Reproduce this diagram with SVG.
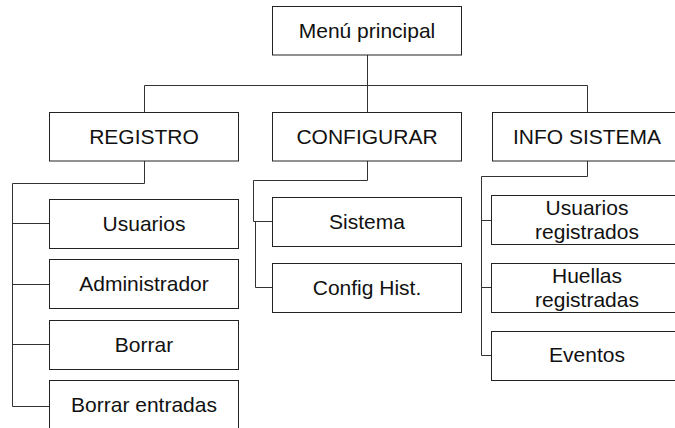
<svg xmlns="http://www.w3.org/2000/svg" width="675" height="428" viewBox="0 0 675 428">
<style>
.box{fill:#ffffff;stroke:#222222;stroke-width:1}
.t{font-family:"Liberation Sans",Arial,sans-serif;font-size:21px;fill:#111111;text-anchor:middle}
.c{fill:none;stroke:#333333;stroke-width:1}
</style>
<rect width="675" height="428" fill="#ffffff"/>
<g id="connectors">
<path class="c" d="M367.5 55 V112.5"/>
<path class="c" d="M144.5 112.5 V85.5 H587.5 V112.5"/>
<path class="c" d="M144.5 161 V183.5 H12.5 V406.5 H49.5"/>
<path class="c" d="M12.5 223.5 H49.5 M12.5 284.5 H49.5 M12.5 344.5 H49.5"/>
<path class="c" d="M367.5 161 V180.5 H253.5 V221.5 H272.5"/>
<path class="c" d="M255.5 221.5 V287.5 H272.5"/>
<path class="c" d="M587.5 161 V176.5 H481.5 V355.5 H491.5"/>
<path class="c" d="M481.5 220.5 H491.5 M481.5 287.5 H491.5"/>
</g>
<g id="menu-principal"><rect class="box" x="272.5" y="6.5" width="189" height="48.5"/><text class="t" x="367" y="37.5">Menú principal</text></g>
<g id="registro"><rect class="box" x="49.5" y="112.5" width="189" height="48.5"/><text class="t" x="144" y="143.5">REGISTRO</text></g>
<g id="configurar"><rect class="box" x="272.5" y="112.5" width="189" height="48.5"/><text class="t" x="367" y="143.5">CONFIGURAR</text></g>
<g id="info-sistema"><rect class="box" x="492.5" y="112.5" width="190" height="48.5"/><text class="t" x="587" y="143.5">INFO SISTEMA</text></g>
<g id="usuarios"><rect class="box" x="49.5" y="199.5" width="189" height="49"/><text class="t" x="144" y="230.5">Usuarios</text></g>
<g id="administrador"><rect class="box" x="49.5" y="259.5" width="189" height="49"/><text class="t" x="144" y="290.5">Administrador</text></g>
<g id="borrar"><rect class="box" x="49.5" y="320.5" width="189" height="49"/><text class="t" x="144" y="351.5">Borrar</text></g>
<g id="borrar-entradas"><rect class="box" x="49.5" y="380.5" width="189" height="49"/><text class="t" x="144" y="411.5">Borrar entradas</text></g>
<g id="sistema"><rect class="box" x="272.5" y="197.5" width="189" height="49"/><text class="t" x="367" y="228.5">Sistema</text></g>
<g id="config-hist"><rect class="box" x="272.5" y="263.5" width="189" height="49"/><text class="t" x="367" y="294.5">Config Hist.</text></g>
<g id="usuarios-registrados"><rect class="box" x="491.5" y="195.5" width="190" height="49"/><text class="t" x="587" y="215">Usuarios</text><text class="t" x="587" y="238.5">registrados</text></g>
<g id="huellas-registradas"><rect class="box" x="491.5" y="263.5" width="190" height="49"/><text class="t" x="587" y="283.3">Huellas</text><text class="t" x="587" y="306.7">registradas</text></g>
<g id="eventos"><rect class="box" x="491.5" y="331.5" width="190" height="49"/><text class="t" x="587" y="362">Eventos</text></g>
</svg>
